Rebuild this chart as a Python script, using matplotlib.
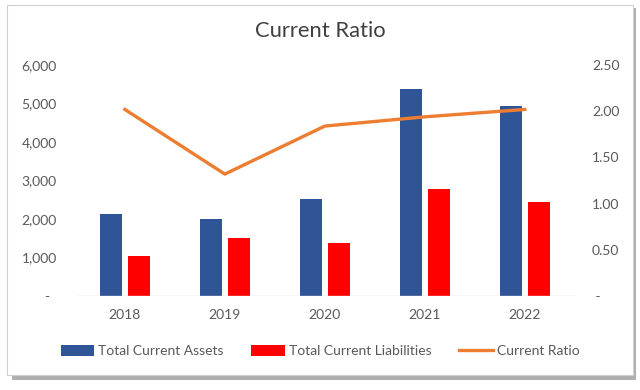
import numpy as np
import matplotlib.pyplot as plt
from matplotlib.patches import Rectangle
from matplotlib.ticker import FuncFormatter

plt.rcParams['font.family'] = ['Lato', 'DejaVu Sans']

years = ["2018", "2019", "2020", "2021", "2022"]
current_assets = [2130, 2000, 2520, 5380, 4950]
current_liabilities = [1040, 1505, 1375, 2780, 2440]
current_ratio = [2.02, 1.32, 1.84, 1.94, 2.02]

fig = plt.figure(figsize=(6.4, 3.9), dpi=100)

# card background with a drop shadow (drawn below the axes)
fig.patches.append(Rectangle((0.018, 0.025), 0.975, 0.955, transform=fig.transFigure,
                             facecolor="#6e6e6e", edgecolor="none", alpha=0.55, zorder=-2))
fig.patches.append(Rectangle((0.011, 0.038), 0.978, 0.95, transform=fig.transFigure,
                             facecolor="white", edgecolor="#d0d0d0", linewidth=0.8, zorder=-1))

ax = fig.add_axes([0.117, 0.241, 0.781, 0.592])
ax.set_facecolor("none")
x = np.arange(len(years))
w = 0.22
b1 = ax.bar(x - 0.14, current_assets, w, color="#2F5597", label="Total Current Assets")
b2 = ax.bar(x + 0.14, current_liabilities, w, color="#FF0000", label="Total Current Liabilities")
ax.set_ylim(0, 6000)
ax.set_xlim(-0.5, 4.5)
ax.set_yticks(range(0, 6001, 1000))
ax.yaxis.set_major_formatter(FuncFormatter(lambda v, p: "-  " if v == 0 else f"{int(v):,}"))
ax.set_xticks(x)
ax.set_xticklabels(years)

ax2 = ax.twinx()
ln, = ax2.plot(x, current_ratio, color="#ED7D31", linewidth=2.4, label="Current Ratio")
ax2.set_ylim(0, 2.5)
ax2.set_yticks(np.arange(0, 2.51, 0.5))
ax2.yaxis.set_major_formatter(FuncFormatter(lambda v, p: " -" if v == 0 else f"{v:.2f}"))

for a in (ax, ax2):
    for s in a.spines.values():
        s.set_visible(False)
    a.tick_params(length=0, labelsize=10, colors="#595959")
ax.tick_params(axis="y", pad=13)
ax.tick_params(axis="x", pad=9)
ax2.tick_params(axis="y", pad=12.5)
ax.axhline(0, color="#d9d9d9", linewidth=1)

fig.text(0.5, 0.92, "Current Ratio", ha="center", va="center", fontsize=15.8, color="#404040")

fig.legend(handles=[b1, b2, ln], loc="center", bbox_to_anchor=(0.5, 0.1), ncol=3,
           frameon=False, fontsize=10, labelcolor="#595959", handlelength=2.4,
           handleheight=0.8, handletextpad=0.3, columnspacing=2.0)

fig.savefig("out.png", dpi=100)
